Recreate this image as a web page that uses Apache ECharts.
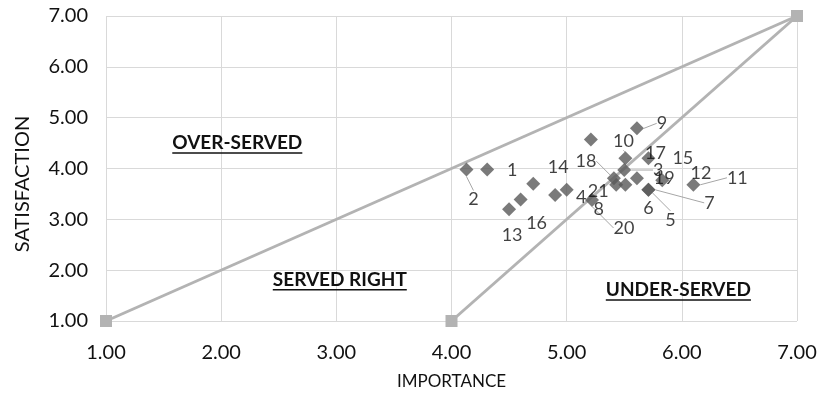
<!DOCTYPE html>
<html>
<head>
<meta charset="utf-8">
<script src="https://cdn.jsdelivr.net/npm/echarts@6/dist/echarts.min.js"></script>
<style>
html,body{margin:0;padding:0;background:#fff;}
#c{width:822px;height:397px;}
</style>
</head>
<body>
<div id="c"></div>
<script>
// ---- data ----
const pointLabels = ['1','2','3','4','5','6','7','8','9','10','11','12','13','14','15','16','17','18','19','20','21'];
const importance  = [4.31,4.13,5.50,4.71,5.71,5.51,5.71,5.00,5.61,5.51,6.10,5.61,4.50,4.90,5.21,4.60,5.71,5.41,5.83,5.22,5.43];
const satisfaction= [3.98,3.98,3.97,3.70,3.58,3.68,3.58,3.58,4.79,4.20,3.68,3.81,3.20,3.48,4.57,3.39,4.20,3.81,3.77,3.38,3.68];
const upperLine = [[1,1],[7,7]];
const lowerLine = [[4,1],[7,7]];
const regionNames = ['OVER-SERVED','SERVED RIGHT','UNDER-SERVED'];
const regionX = [2.14, 3.03, 5.97];
const regionY = [4.50, 1.81, 1.61];
const xTitle = 'IMPORTANCE';
const yTitle = 'SATISFACTION';

// ---- label layout (offsets of point labels, px) ----
const labelOffsets = [[25,1],[7,30],[34,0],[48,13],[22,30],[23,23],[61,13],[32,19],[25,-5],[-2,-17],[44,-7],[64,-5],[3,26],[3,-28],[92,19],[16,24],[7,-5],[-28,-17],[2,-2],[32,28],[-18,6]];
const leaderIdx = [1,2,4,6,8,9,10,17,19];

const FONT = 'Lato';
const TXT = '#111';
const chart = echarts.init(document.getElementById('c'), null, {renderer:'canvas'});

const scatterData = importance.map((x,i)=>({
  value:[x, satisfaction[i]],
  name: pointLabels[i],
  labelLine:{show: leaderIdx.indexOf(i)>=0}
}));

const axisCommon = {
  type:'value', min:1, max:7, interval:1,
  axisLine:{show:false}, axisTick:{show:false},
  splitLine:{show:true, lineStyle:{color:'#d9d9d9', width:1}},
  axisLabel:{formatter:v=>v.toFixed(2), color:TXT, fontFamily:FONT, fontSize:20},
  nameTextStyle:{color:TXT, fontFamily:FONT, fontSize:17},
  nameLocation:'middle'
};

chart.setOption({
  animation:false,
  grid:{left:106, right:25, top:16, bottom:76},
  xAxis: Object.assign({}, axisCommon, {name:xTitle, nameGap:52, axisLabel:Object.assign({}, axisCommon.axisLabel, {margin:22})}),
  yAxis: Object.assign({}, axisCommon, {axisLabel:Object.assign({}, axisCommon.axisLabel, {margin:18})}),
  series:[
    {type:'line', data:upperLine, symbol:'rect', symbolSize:12, showSymbol:true,
     lineStyle:{color:'#b3b3b3', width:3}, itemStyle:{color:'#b3b3b3'}, z:2},
    {type:'line', data:lowerLine, symbol:'rect', symbolSize:12, showSymbol:true,
     lineStyle:{color:'#b3b3b3', width:3}, itemStyle:{color:'#b3b3b3'}, z:2},
    {type:'scatter', data:scatterData, symbol:'diamond', symbolSize:14,
     itemStyle:{color:'#595959'}, z:3,
     label:{show:true, position:'inside', formatter:p=>p.name, color:TXT, fontFamily:FONT, fontSize:18},
     labelLine:{show:false, lineStyle:{color:'#a6a6a6', width:1}},
     labelLayout:p=>({dx:labelOffsets[p.dataIndex][0], dy:labelOffsets[p.dataIndex][1], hideOverlap:false})
    }
  ]
});

// region labels with underline, y-axis title
const cv = document.createElement('canvas').getContext('2d');
const RFONT = 'bold 19px ' + FONT;
cv.font = RFONT;
const graphics = [];
regionNames.forEach((t,i)=>{
  const p = chart.convertToPixel({gridIndex:0}, [regionX[i], regionY[i]]);
  const w = cv.measureText(t).width;
  graphics.push({type:'text', x:p[0], y:p[1], z:10,
    style:{text:t, fill:TXT, font:RFONT, textAlign:'center', textVerticalAlign:'middle'}});
  graphics.push({type:'line', z:10, shape:{x1:p[0]-w/2, y1:p[1]+10, x2:p[0]+w/2, y2:p[1]+10},
    style:{stroke:TXT, lineWidth:1.5}});
});
graphics.push({type:'text', x:23, y:184, rotation:Math.PI/2, z:10,
  style:{text:yTitle, fill:TXT, font:'20px ' + FONT, textAlign:'center', textVerticalAlign:'middle'}});
chart.setOption({graphic:graphics});
</script>
</body>
</html>
